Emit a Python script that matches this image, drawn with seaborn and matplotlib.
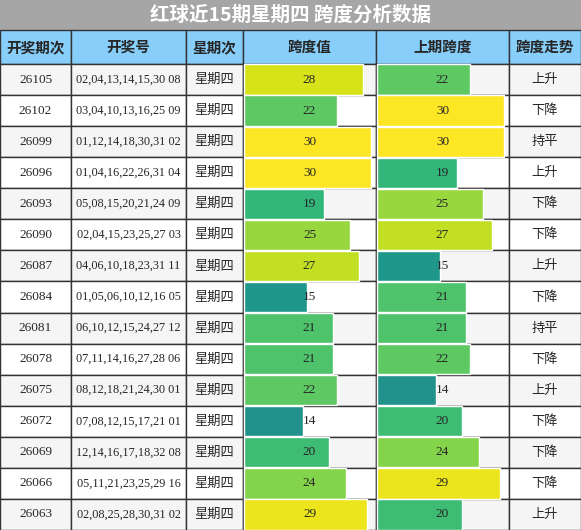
import matplotlib.pyplot as plt
import seaborn as sns
import numpy as np
from matplotlib.patches import Rectangle

sns.set_theme(style="white")
plt.rcParams['font.family'] = ['Liberation Serif', 'Noto Sans CJK SC', 'DejaVu Sans']

title = "红球近15期星期四 跨度分析数据"
headers = ["开奖期次", "开奖号", "星期次", "跨度值", "上期跨度", "跨度走势"]
issues = ["26105", "26102", "26099", "26096", "26093", "26090", "26087", "26084",
          "26081", "26078", "26075", "26072", "26069", "26066", "26063"]
numbers = ["02,04,13,14,15,30 08", "03,04,10,13,16,25 09", "01,12,14,18,30,31 02",
           "01,04,16,22,26,31 04", "05,08,15,20,21,24 09", "02,04,15,23,25,27 03",
           "04,06,10,18,23,31 11", "01,05,06,10,12,16 05", "06,10,12,15,24,27 12",
           "07,11,14,16,27,28 06", "08,12,18,21,24,30 01", "07,08,12,15,17,21 01",
           "12,14,16,17,18,32 08", "05,11,21,23,25,29 16", "02,08,25,28,30,31 02"]
span = [28, 22, 30, 30, 19, 25, 27, 15, 21, 21, 22, 14, 20, 24, 29]
prev_span = [22, 30, 30, 19, 25, 27, 15, 21, 21, 22, 14, 20, 24, 29, 20]
trend = ["上升", "下降", "持平", "上升", "下降", "下降", "上升", "下降",
         "持平", "下降", "上升", "下降", "下降", "下降", "上升"]

W, H = 581, 530
col_x = [0, 71, 186, 243, 376, 509, 581]
title_h, head_h = 30, 34
n = len(issues)
row_h = (H - title_h - head_h) / n
cmap = sns.color_palette("viridis", as_cmap=True)
vmin, vmax, bar_max = -2, 30, 31.2

fig = plt.figure(figsize=(W / 100, H / 100), dpi=100)
ax = fig.add_axes([0, 0, 1, 1])
ax.set_xlim(0, W)
ax.set_ylim(H, 0)
ax.axis("off")

ax.add_patch(Rectangle((0, 0), W, title_h, color="#a6a6a6"))
ax.text(W / 2, title_h / 2, title, ha="center", va="center", color="white",
        fontsize=14, fontweight="bold", family=['Noto Sans CJK SC'])

for j, h in enumerate(headers):
    x0, x1 = col_x[j], col_x[j + 1]
    ax.add_patch(Rectangle((x0, title_h), x1 - x0, head_h, facecolor="#87cefa",
                           edgecolor="#333333", lw=1))
    ax.text((x0 + x1) / 2, title_h + head_h / 2, h, ha="center", va="center",
            fontsize=10.5, fontweight="bold", family=['Noto Sans CJK SC'])

ys = title_h + head_h + row_h * (np.arange(n) + 0.5)
for i in range(n):
    bg = "#f5f5f5" if i % 2 == 0 else "white"
    y0 = title_h + head_h + i * row_h
    for j in range(6):
        x0, x1 = col_x[j], col_x[j + 1]
        ax.add_patch(Rectangle((x0, y0), x1 - x0, row_h, facecolor=bg,
                               edgecolor="#333333", lw=1, zorder=1))

for j, vals in [(3, span), (4, prev_span)]:
    x0, x1 = col_x[j], col_x[j + 1]
    widths = np.array(vals) / bar_max * (x1 - x0)
    colors = [cmap((v - vmin) / (vmax - vmin)) for v in vals]
    ax.barh(ys, widths, left=x0 + 0.5, height=row_h - 0.8, color=colors, zorder=2)
    for y, v in zip(ys, vals):
        ax.text((x0 + x1) / 2, y, str(v), ha="center", va="center", fontsize=9.5, zorder=3)

for i in range(n):
    y = ys[i]
    ax.text((col_x[0] + col_x[1]) / 2, y, issues[i], ha="center", va="center", fontsize=9.5)
    ax.text((col_x[1] + col_x[2]) / 2, y, numbers[i], ha="center", va="center", fontsize=8.8)
    ax.text((col_x[2] + col_x[3]) / 2, y, "星期四", ha="center", va="center", fontsize=9.5,
            family=['Noto Sans CJK SC'])
    ax.text((col_x[5] + col_x[6]) / 2, y, trend[i], ha="center", va="center", fontsize=9.5,
            family=['Noto Sans CJK SC'])

fig.savefig("out.png", dpi=100)
